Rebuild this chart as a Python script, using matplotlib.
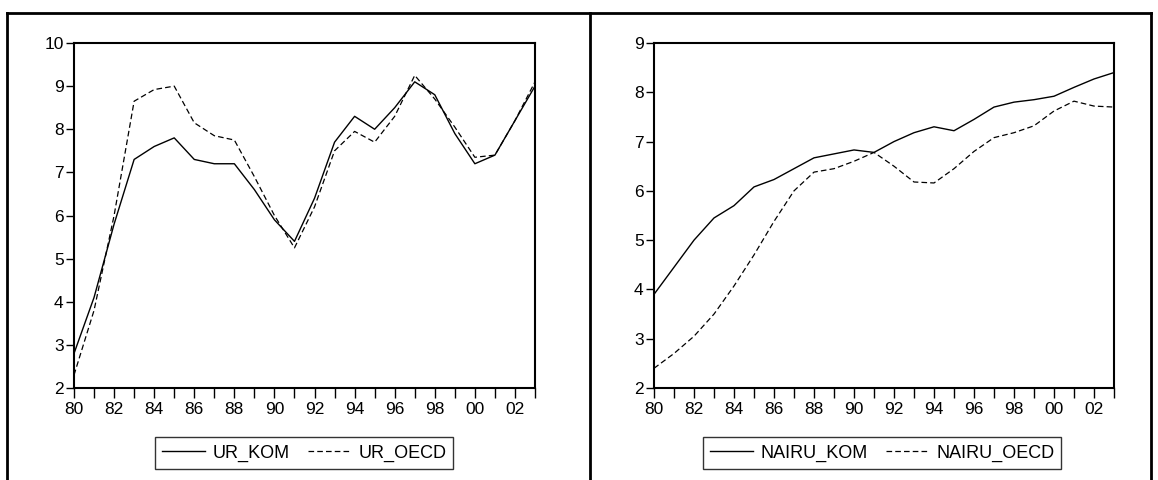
import matplotlib
matplotlib.use("Agg")
import matplotlib.pyplot as plt
from matplotlib.lines import Line2D

plt.rcParams['font.family'] = ['Liberation Sans', 'DejaVu Sans']

years = list(range(1980, 2004))
year_labels = ["80", "82", "84", "86", "88", "90", "92", "94", "96", "98", "00", "02"]

ur_kom = [2.8, 4.1, 5.8, 7.3, 7.6, 7.8, 7.3, 7.2, 7.2, 6.6, 5.9, 5.4,
          6.4, 7.7, 8.3, 8.0, 8.5, 9.1, 8.8, 7.9, 7.2, 7.4, 8.2, 9.0]
ur_oecd = [2.3, 3.8, 6.0, 8.65, 8.92, 9.0, 8.15, 7.85, 7.75, 6.9, 6.0, 5.25,
           6.2, 7.5, 7.95, 7.7, 8.3, 9.25, 8.7, 8.05, 7.35, 7.4, 8.2, 9.1]

nairu_kom = [3.9, 4.45, 5.0, 5.45, 5.7, 6.08, 6.23, 6.45, 6.67, 6.75, 6.83, 6.78,
             7.0, 7.18, 7.3, 7.22, 7.45, 7.7, 7.8, 7.85, 7.92, 8.1, 8.27, 8.4]
nairu_oecd = [2.4, 2.7, 3.05, 3.5, 4.07, 4.7, 5.38, 6.0, 6.38, 6.45, 6.6, 6.78,
              6.5, 6.18, 6.16, 6.45, 6.8, 7.08, 7.18, 7.32, 7.62, 7.82, 7.72, 7.7]

W, H = 1158, 480
fig = plt.figure(figsize=(W / 100, H / 100), dpi=100)
fig.patch.set_facecolor('white')

def px_axes(x0, y0, x1, y1):
    return fig.add_axes([x0 / W, 1 - y1 / H, (x1 - x0) / W, (y1 - y0) / H])

dash = (0, (4.5, 2.5))

def style(ax, ymin, ymax):
    ax.set_xlim(years[0], years[-1])
    ax.set_ylim(ymin, ymax)
    ax.set_xticks(years)
    ax.set_xticklabels([year_labels[(y - 1980) // 2] if (y - 1980) % 2 == 0 else "" for y in years])
    ax.set_yticks(list(range(ymin, ymax + 1)))
    ax.tick_params(axis='x', direction='out', length=7, width=1, pad=3, labelsize=12.5)
    ax.tick_params(axis='y', direction='out', length=6, width=1, pad=1.5, labelsize=12.5)
    for s in ax.spines.values():
        s.set_linewidth(1.5)
        s.set_color('black')

ax1 = px_axes(74, 43, 535, 388)
ax1.plot(years, ur_kom, color='black', lw=1.0, label='UR_KOM')
ax1.plot(years, ur_oecd, color='black', lw=0.9, linestyle=dash, label='UR_OECD')
style(ax1, 2, 10)

ax2 = px_axes(654, 43, 1114, 388)
ax2.plot(years, nairu_kom, color='black', lw=1.0, label='NAIRU_KOM')
ax2.plot(years, nairu_oecd, color='black', lw=0.9, linestyle=dash, label='NAIRU_OECD')
style(ax2, 2, 9)

for ax, cx in ((ax1, 304), (ax2, 882)):
    leg = ax.legend(loc='center', bbox_to_anchor=(cx / W, 1 - 453 / H),
                    bbox_transform=fig.transFigure, ncol=2, frameon=True,
                    fancybox=False, edgecolor='black', fontsize=13,
                    handlelength=2.4, handletextpad=0.4, columnspacing=1.0,
                    borderpad=0.4, borderaxespad=0)
    leg.get_frame().set_linewidth(1.0)

# outer frame
lw = 2.0
fig.add_artist(Line2D([7 / W, 1151 / W], [1 - 13 / H, 1 - 13 / H], color='black', lw=lw, transform=fig.transFigure))
for xp in (7.5, 590, 1151):
    fig.add_artist(Line2D([xp / W, xp / W], [1 - 13 / H, 0], color='black', lw=lw, transform=fig.transFigure))

fig.savefig('out.png', dpi=100, facecolor='white')
